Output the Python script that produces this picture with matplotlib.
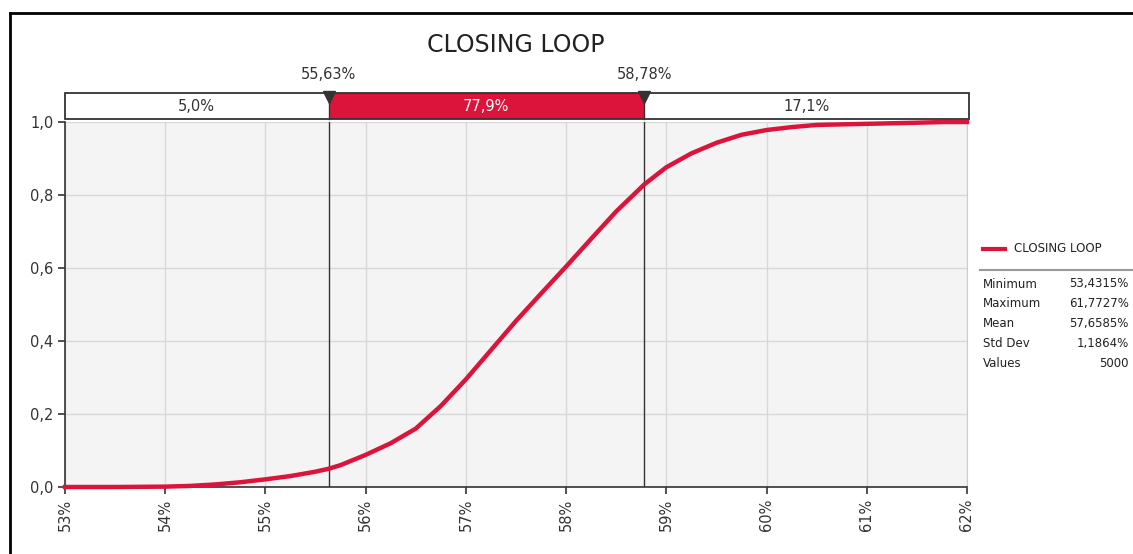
import numpy as np
import matplotlib.pyplot as plt
from matplotlib.lines import Line2D
from matplotlib.patches import Rectangle
import matplotlib.transforms as mtransforms

# cumulative curve
pct = [53.0, 53.5, 54.0, 54.25, 54.5, 54.75, 55.0, 55.25, 55.5, 55.63, 55.75, 56.0,
       56.25, 56.5, 56.75, 57.0, 57.25, 57.5, 57.75, 58.0, 58.25, 58.5, 58.78, 59.0,
       59.25, 59.5, 59.75, 60.0, 60.25, 60.5, 61.0, 61.5, 61.77, 62.0]
cum = [0.0, 0.0, 0.001, 0.003, 0.007, 0.013, 0.021, 0.03, 0.042, 0.05, 0.06, 0.088,
       0.12, 0.16, 0.222, 0.295, 0.375, 0.455, 0.53, 0.604, 0.68, 0.755, 0.829, 0.876,
       0.914, 0.943, 0.965, 0.978, 0.986, 0.992, 0.995, 0.998, 1.0, 1.0]

# delimiters and band shares
lo_mark, hi_mark = 55.63, 58.78
lo_label, hi_label = '55,63%', '58,78%'
band_labels = ['5,0%', '77,9%', '17,1%']

xticks = [53, 54, 55, 56, 57, 58, 59, 60, 61, 62]
xtick_labels = ['53%', '54%', '55%', '56%', '57%', '58%', '59%', '60%', '61%', '62%']
yticks = [0.0, 0.2, 0.4, 0.6, 0.8, 1.0]
ytick_labels = ['0,0', '0,2', '0,4', '0,6', '0,8', '1,0']

stat_names = ['Minimum', 'Maximum', 'Mean', 'Std Dev', 'Values']
stat_values = ['53,4315%', '61,7727%', '57,6585%', '1,1864%', '5000']

red = '#dc143c'
dark = '#333333'

fig = plt.figure(figsize=(11.33, 5.54), dpi=100)
ax = fig.add_axes([65/1133, 1-487/554, 902/1133, 365/554])
ax.set_facecolor('#f4f4f4')

ax.plot(pct, cum, color=red, lw=3.2, clip_on=False, zorder=5, solid_joinstyle='round')

ax.set_xlim(53, 62)
ax.set_ylim(0, 1.0)
ax.set_xticks(xticks)
ax.set_xticklabels(xtick_labels, rotation=90, fontsize=10.5, color=dark)
ax.set_yticks(yticks)
ax.set_yticklabels(ytick_labels, fontsize=10.5, color=dark)
ax.tick_params(axis='both', direction='out', length=5, color=dark, width=1.2)
ax.grid(True, color='#d8d8d8', lw=1)
ax.set_axisbelow(True)
ax.spines['top'].set_visible(False)
ax.spines['right'].set_color('#cccccc')
ax.spines['left'].set_color(dark)
ax.spines['bottom'].set_color(dark)
ax.spines['left'].set_linewidth(1.2)
ax.spines['bottom'].set_linewidth(1.2)

# delimiter lines
for m in [lo_mark, hi_mark]:
    ax.axvline(m, color=dark, lw=1, zorder=4)

# band bar above the plot
trans = mtransforms.blended_transform_factory(ax.transData, ax.transAxes)
b0, b1 = 1.008, 1.079
edges = [53, lo_mark, hi_mark, 62.02]
fills = ['white', red, 'white']
tcols = [dark, 'white', dark]
for i in range(3):
    ax.add_patch(Rectangle((edges[i], b0), edges[i+1]-edges[i], b1-b0, transform=trans,
                           facecolor=fills[i], edgecolor='none', clip_on=False))
    ax.text((edges[i]+edges[i+1])/2, (b0+b1)/2, band_labels[i], transform=trans,
            ha='center', va='center', fontsize=10.5, color=tcols[i])
ax.add_patch(Rectangle((53, b0), 62.02-53, b1-b0, transform=trans, facecolor='none',
                       edgecolor=dark, lw=1.3, clip_on=False, zorder=6))
for m in [lo_mark, hi_mark]:
    ax.plot([m, m], [b0, b1], color=dark, lw=1, transform=trans, clip_on=False)
ax.plot([lo_mark, hi_mark], [b1 - 0.01, b1 - 0.01], 'v', ms=9, color=dark,
        transform=trans, clip_on=False, zorder=7)
ax.text(lo_mark, 1.131, lo_label, transform=trans, ha='center', va='center',
        fontsize=10.5, color=dark)
ax.text(hi_mark, 1.131, hi_label, transform=trans, ha='center', va='center',
        fontsize=10.5, color=dark)

ax.text(0.5, 1.211, 'CLOSING LOOP', transform=ax.transAxes, ha='center', va='center',
        fontsize=17, color='#222222')

# legend + stats on the right
fig.add_artist(Line2D([983/1133, 1005/1133], [1-249/554, 1-249/554], color=red, lw=3))
fig.text(1014/1133, 1-249/554, 'CLOSING LOOP', fontsize=8.5, va='center', color='#222222')
fig.add_artist(Line2D([980/1133, 1.0], [1-270/554, 1-270/554], color='#999999', lw=1.5))
for i in range(len(stat_names)):
    yy = 1 - (284 + i*19.8)/554
    fig.text(983/1133, yy, stat_names[i], fontsize=8.5, va='center', color='#222222')
    fig.text(1129/1133, yy, stat_values[i], fontsize=8.5, va='center', ha='right',
             color='#222222')

# outer frame (left and top edges)
fig.add_artist(Line2D([10/1133, 10/1133], [0, 1-13/554], color='black', lw=2))
fig.add_artist(Line2D([10/1133, 1.0], [1-13/554, 1-13/554], color='black', lw=2))

plt.savefig('out.png', dpi=100)
